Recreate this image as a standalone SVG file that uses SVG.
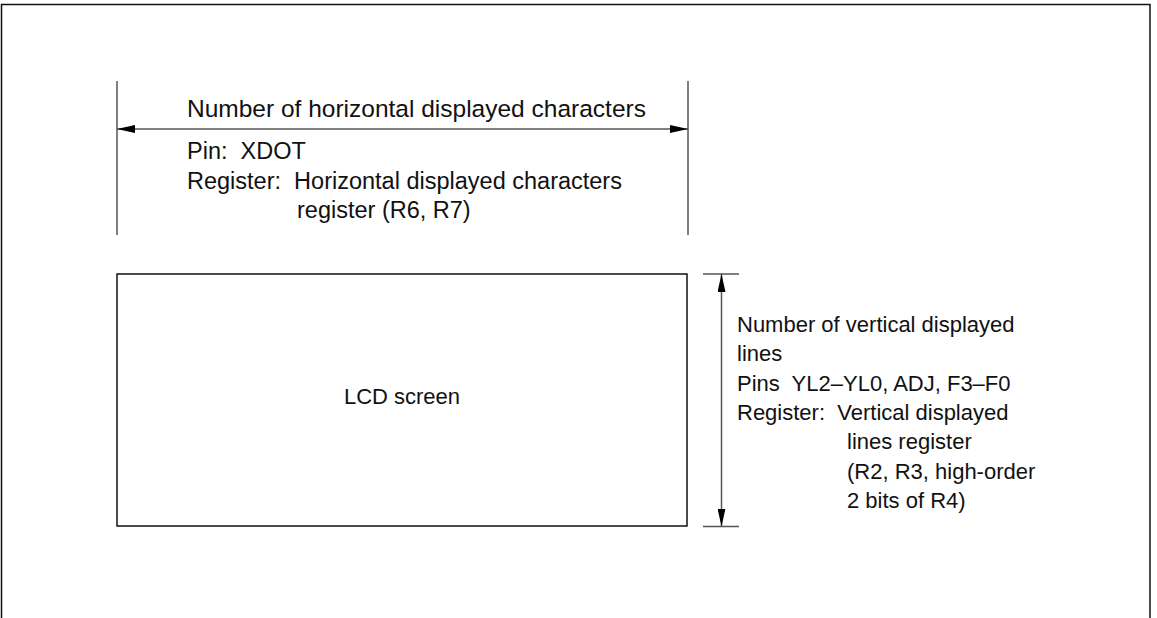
<svg xmlns="http://www.w3.org/2000/svg" width="1157" height="618" viewBox="0 0 1157 618">
  <style>
    .t { font-family: "Liberation Sans", Arial, sans-serif; font-size: 22px; fill: #111; white-space: pre; }
    .big { font-size: 23.5px; }
    .title { font-size: 24.5px; }
    .ln { stroke: #555; stroke-width: 1.5; fill: none; }
    .box { stroke: #111; stroke-width: 1.5; fill: none; }
  </style>
  <defs>
    <marker id="arr" markerWidth="18" markerHeight="8" refX="18" refY="4" orient="auto-start-reverse" markerUnits="userSpaceOnUse">
      <path d="M0,0 L18,4 L0,8 Z" fill="#000"/>
    </marker>
  </defs>
  <rect width="1157" height="618" fill="#fff"/>
  <!-- outer frame, open at the bottom -->
  <path class="box" d="M1.5,618 V4.5 H1150 V618"/>

  <g id="connectors">
    <!-- horizontal extent -->
    <line class="ln" x1="117" y1="81" x2="117" y2="235"/>
    <line class="ln" x1="688" y1="81" x2="688" y2="235"/>
    <line class="ln" x1="117" y1="129" x2="688" y2="129" marker-start="url(#arr)" marker-end="url(#arr)"/>
    <!-- vertical extent -->
    <line class="ln" x1="703" y1="274" x2="739" y2="274"/>
    <line class="ln" x1="703" y1="526.5" x2="739" y2="526.5"/>
    <line class="ln" x1="721.5" y1="274" x2="721.5" y2="526.5" marker-start="url(#arr)" marker-end="url(#arr)"/>
  </g>

  <g id="lcd">
    <rect class="box" x="117" y="274" width="570" height="252"/>
    <text class="t" x="402" y="404" text-anchor="middle">LCD screen</text>
  </g>

  <g id="horizontal-label" xml:space="preserve">
    <text class="t title" x="187" y="117">Number of horizontal displayed characters</text>
    <text class="t big" x="187" y="159">Pin:  XDOT</text>
    <text class="t big" x="187" y="189">Register:  Horizontal displayed characters</text>
    <text class="t big" x="297" y="218">register (R6, R7)</text>
  </g>

  <g id="vertical-label" xml:space="preserve">
    <text class="t" x="737" y="332">Number of vertical displayed</text>
    <text class="t" x="737" y="361">lines</text>
    <text class="t" x="737" y="391">Pins  YL2–YL0, ADJ, F3–F0</text>
    <text class="t" x="737" y="420">Register:  Vertical displayed</text>
    <text class="t" x="847" y="449">lines register</text>
    <text class="t" x="847" y="479">(R2, R3, high-order</text>
    <text class="t" x="847" y="508">2 bits of R4)</text>
  </g>
</svg>
